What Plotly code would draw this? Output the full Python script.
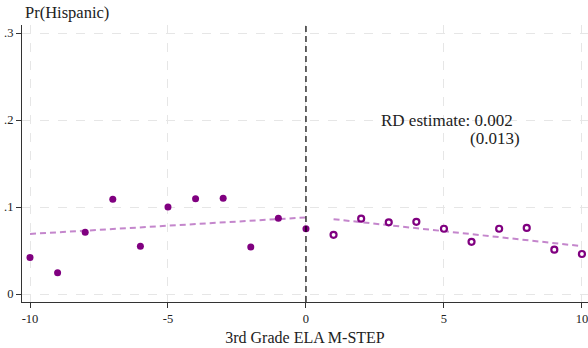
import plotly.graph_objects as go

x_left = [-10, -9, -8, -7, -6, -5, -4, -3, -2, -1, 0]
y_left = [0.042, 0.0245, 0.071, 0.109, 0.055, 0.100, 0.1095, 0.110, 0.054, 0.087, 0.075]
x_right = [1, 2, 3, 4, 5, 6, 7, 8, 9, 10]
y_right = [0.068, 0.0866, 0.0824, 0.083, 0.075, 0.060, 0.075, 0.076, 0.051, 0.046]
fit_left_x = [-10, 0]
fit_left_y = [0.069, 0.088]
fit_right_x = [1, 10]
fit_right_y = [0.086, 0.055]
x_ticks = [-10, -5, 0, 5, 10]
y_ticks = [0, 0.1, 0.2, 0.3]
y_tick_labels = ["0", ".1", ".2", ".3"]

FONT = "Liberation Serif"
PURPLE = "#800080"
FITC = "#c486cc"

fig = go.Figure()
fig.add_trace(go.Scatter(x=fit_left_x, y=fit_left_y, mode="lines",
                         line=dict(color=FITC, width=2, dash="6px,4px"), hoverinfo="skip"))
fig.add_trace(go.Scatter(x=fit_right_x, y=fit_right_y, mode="lines",
                         line=dict(color=FITC, width=2, dash="6px,4px"), hoverinfo="skip"))
fig.add_trace(go.Scatter(x=x_left, y=y_left, mode="markers",
                         marker=dict(color=PURPLE, size=7, line=dict(width=0))))
fig.add_trace(go.Scatter(x=x_right, y=y_right, mode="markers",
                         marker=dict(color="white", size=6, line=dict(color=PURPLE, width=2.2))))

fig.add_shape(type="line", x0=0, x1=0, y0=0, y1=1, xref="x", yref="paper",
              line=dict(color="black", width=1.2, dash="6px,4px"))

fig.add_annotation(xref="paper", yref="paper", x=0.0, y=1.0, xanchor="left", yanchor="bottom",
                   text="Pr(Hispanic)", showarrow=False, font=dict(family=FONT, size=16.5, color="#222"),
                   xshift=1, yshift=1)
fig.add_annotation(x=2.64, y=0.2, xref="x", yref="y", xanchor="left", yanchor="middle",
                   text="RD estimate: 0.002", showarrow=False,
                   font=dict(family=FONT, size=17, color="#222"))
fig.add_annotation(x=5.87, y=0.179, xref="x", yref="y", xanchor="left", yanchor="middle",
                   text="(0.013)", showarrow=False,
                   font=dict(family=FONT, size=17, color="#222"))

fig.update_layout(
    width=588, height=348,
    margin=dict(l=22, r=0, t=25, b=46),
    paper_bgcolor="white", plot_bgcolor="white",
    showlegend=False,
    xaxis=dict(range=[-10.29, 10.22], tickvals=x_ticks, ticktext=[str(v) for v in x_ticks],
               showgrid=True, gridcolor="#e6e6e6", griddash="dash", gridwidth=1,
               zeroline=False, showline=True, linecolor="#333", linewidth=1.2,
               ticks="outside", ticklen=5, tickcolor="#333", ticklabeloverflow="allow",
               tickfont=dict(family=FONT, size=12.5, color="#222"),
               title=dict(text="3rd Grade ELA M-STEP", font=dict(family=FONT, size=16, color="#222"),
                          standoff=6)),
    yaxis=dict(range=[-0.0092, 0.3092], tickvals=y_ticks, ticktext=y_tick_labels,
               showgrid=True, gridcolor="#e6e6e6", griddash="dash", gridwidth=1,
               zeroline=False, showline=True, linecolor="#333", linewidth=1.2,
               ticks="outside", ticklen=5, tickcolor="#333", ticklabeloverflow="allow",
               tickfont=dict(family=FONT, size=12.5, color="#222")),
)

fig.write_html("out.html")
